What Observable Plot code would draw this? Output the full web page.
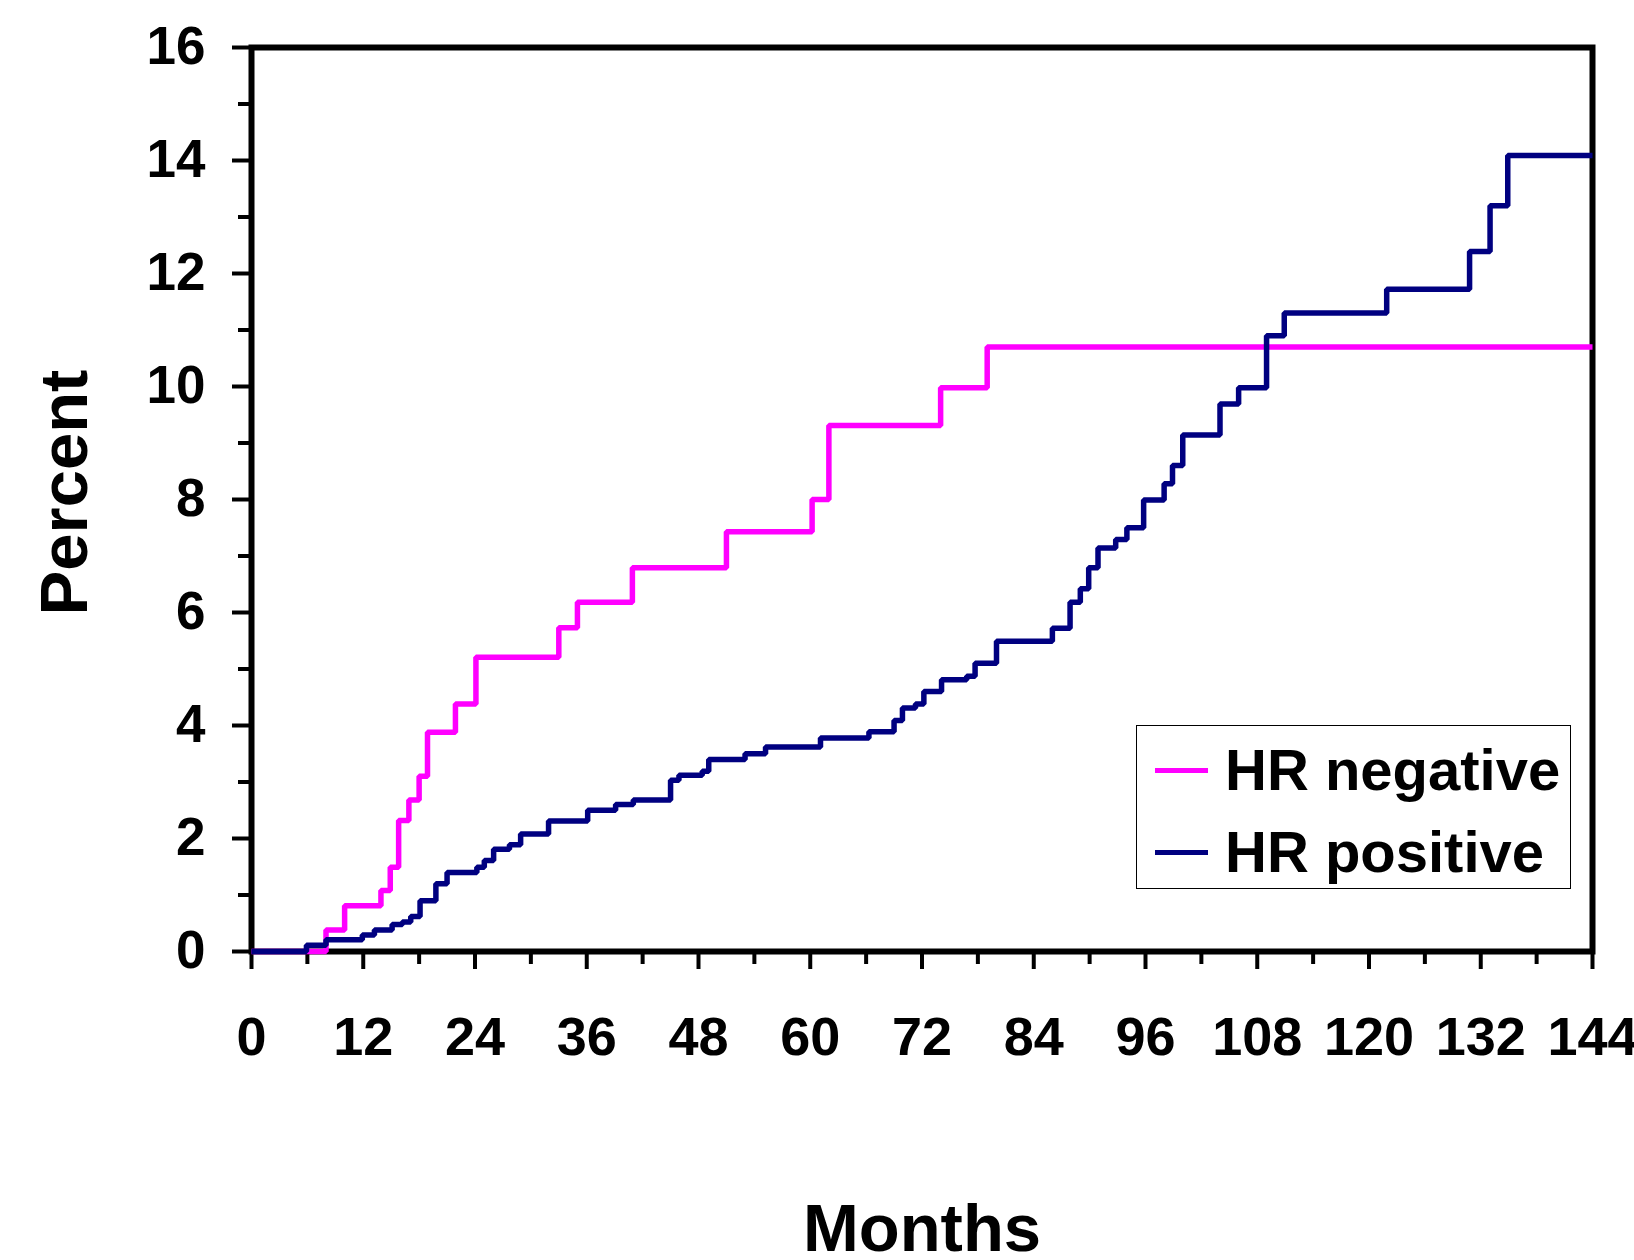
<!DOCTYPE html>
<html>
<head>
<meta charset="utf-8">
<script src="https://cdn.jsdelivr.net/npm/d3@7"></script>
<script src="https://cdn.jsdelivr.net/npm/@observablehq/plot@0.6"></script>
<style>
  html, body { margin: 0; padding: 0; background: #fff; }
  #wrap { position: relative; width: 1634px; height: 1260px; overflow: hidden; font-family: "Liberation Sans", Arial, sans-serif; }
  svg text { font-weight: bold; }
  #legend { position: absolute; left: 1136px; top: 725px; width: 435px; height: 164px; border: 1.5px solid #000; box-sizing: border-box; background: #fff; }
  .lg-line { position: absolute; left: 18px; width: 53px; height: 5px; }
  .lg-text { position: absolute; left: 88px; font-size: 58px; line-height: 58px; font-weight: bold; color: #000; white-space: nowrap; }
</style>
</head>
<body>
<div id="wrap"></div>
<script>
// ---- data ----
const negTimes  = [0, 8.0, 10.0, 13.9, 14.9, 15.8, 16.9, 18.0, 18.9, 21.9, 24.1, 33.0, 35.0, 40.9, 51.0, 60.2, 62.0, 74.0, 79.0, 144];
const negValues = [0, 0.38, 0.81, 1.08, 1.49, 2.32, 2.68, 3.10, 3.88, 4.38, 5.21, 5.73, 6.18, 6.79, 7.43, 8.0, 9.31, 9.98, 10.70, 10.70];

const posTimes  = [0, 5.9, 8.0, 11.9, 13.2, 15.1, 16.2, 17.1, 18.1, 19.8, 21.0, 24.2, 25.0, 26.0, 27.7, 28.9, 31.9, 36.1, 39.1, 41.0,
                   45.0, 45.9, 48.4, 49.1, 53.0, 55.2, 61.1, 66.3, 69.0, 69.9, 71.3, 72.2, 74.1, 76.8, 77.7, 80.0, 86.0, 87.9, 89.0, 89.9,
                   90.9, 92.8, 94.0, 95.8, 98.0, 98.9, 100.0, 104.0, 106.0, 109.0, 110.9, 121.9, 130.8, 133.0, 134.9, 144];
const posValues = [0, 0.11, 0.21, 0.29, 0.38, 0.48, 0.52, 0.62, 0.90, 1.20, 1.40, 1.49, 1.61, 1.81, 1.89, 2.08, 2.31, 2.50, 2.60, 2.68,
                   3.03, 3.12, 3.19, 3.40, 3.50, 3.62, 3.78, 3.89, 4.09, 4.31, 4.38, 4.60, 4.81, 4.87, 5.10, 5.49, 5.72, 6.18, 6.42, 6.79,
                   7.14, 7.29, 7.50, 7.99, 8.28, 8.60, 9.14, 9.69, 9.98, 10.90, 11.30, 11.72, 12.39, 13.20, 14.09, 14.09];

const seriesNames  = ["HR negative", "HR positive"];
const seriesColors = ["#FF00FF", "#000080"];
const xMajorTicks = [0, 12, 24, 36, 48, 60, 72, 84, 96, 108, 120, 132, 144];
const xMinorTicks = [6, 18, 30, 42, 54, 66, 78, 90, 102, 114, 126, 138];
const yMajorTicks = [0, 2, 4, 6, 8, 10, 12, 14, 16];
const yMinorTicks = [1, 3, 5, 7, 9, 11, 13, 15];
const xTitle = "Months";
const yTitle = "Percent";

// ---- build rows ----
const neg = negTimes.map((t, i) => ({t, v: negValues[i], s: seriesNames[0]}));
const pos = posTimes.map((t, i) => ({t, v: posValues[i], s: seriesNames[1]}));

const chart = Plot.plot({
  width: 1634,
  height: 1260,
  marginLeft: 251,
  marginRight: 42,
  marginTop: 47,
  marginBottom: 309,
  style: {fontFamily: "Liberation Sans, Arial, sans-serif", background: "#fff", overflow: "visible"},
  x: {domain: [0, 144], label: null},
  y: {domain: [0, 16], label: null},
  marks: [
    Plot.axisX({ticks: xMinorTicks, tickSize: 13, strokeWidth: 4, tickFormat: () => "", label: null}),
    Plot.axisX({ticks: xMajorTicks, tickSize: 18, tickPadding: 47, strokeWidth: 4, fontSize: 54, fontWeight: "bold", label: null, tickFormat: d => String(d)}),
    Plot.axisY({ticks: yMinorTicks, tickSize: 13, strokeWidth: 4, tickFormat: () => "", label: null}),
    Plot.axisY({ticks: yMajorTicks, tickSize: 19, tickPadding: 27, strokeWidth: 4, fontSize: 53, fontWeight: "bold", label: null, tickFormat: d => String(d)}),
    Plot.frame({stroke: "#000", strokeWidth: 6}),
    Plot.line(neg, {x: "t", y: "v", curve: "step-after", stroke: seriesColors[0], strokeWidth: 5.5, strokeLinejoin: "miter", strokeLinecap: "butt"}),
    Plot.line(pos, {x: "t", y: "v", curve: "step-after", stroke: seriesColors[1], strokeWidth: 5.5, strokeLinejoin: "miter", strokeLinecap: "butt"}),
    Plot.text([xTitle], {frameAnchor: "bottom", lineAnchor: "bottom", textAnchor: "middle", dy: 299, fontSize: 67, fontWeight: "bold", fill: "#000"}),
    Plot.text([yTitle], {frameAnchor: "left", lineAnchor: "middle", textAnchor: "middle", rotate: -90, dx: -186, dy: -7, fontSize: 67, fontWeight: "bold", fill: "#000"})
  ]
});

const wrap = document.getElementById("wrap");
wrap.appendChild(chart);

// ---- legend (HTML overlay) ----
const legend = document.createElement("div");
legend.id = "legend";
const rows = [
  {lineTop: 41.5, textTop: 15},
  {lineTop: 123.5, textTop: 96.5}
];
seriesNames.forEach((name, i) => {
  const ln = document.createElement("div");
  ln.className = "lg-line";
  ln.style.top = rows[i].lineTop + "px";
  ln.style.background = seriesColors[i];
  legend.appendChild(ln);
  const tx = document.createElement("div");
  tx.className = "lg-text";
  tx.style.top = rows[i].textTop + "px";
  tx.textContent = name;
  legend.appendChild(tx);
});
wrap.appendChild(legend);
</script>
</body>
</html>
